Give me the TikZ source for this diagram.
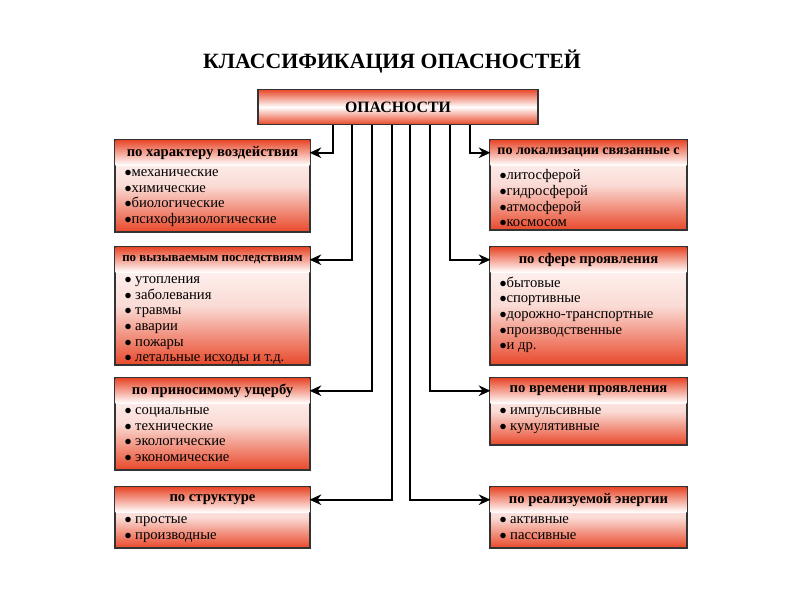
\documentclass[tikz,border=0pt]{standalone}
\usepackage{fontspec}
\setmainfont{Liberation Serif}
\usetikzlibrary{calc,arrows.meta}
\definecolor{hazred}{RGB}{232,72,42}
\tikzset{
  ar/.style={-{Stealth[length=10pt,width=9pt]},line width=1.8pt},
  boxbody/.style={draw=black!80,line width=1.2pt,inner sep=0pt,top color=white,bottom color=hazred,middle color=white!80!hazred},
  hdr/.style={anchor=north,inner sep=0pt,minimum height=0.75cm,top color=hazred,bottom color=white,font=\fontsize{12.5}{14}\selectfont\bfseries},
  items/.style={anchor=north west,inner sep=0pt,align=left,font=\fontsize{12.5}{13.4}\selectfont}
}
% category box: name, x1, y1, x2, y2, header, items
\newcommand{\catbox}[7]{%
  \node[boxbody,minimum width={(#4-#2)*0.03cm},minimum height={(#5-#3)*0.03cm}] (#1) at ({(#2+#4)/2},{(#3+#5)/2}) {};
  \node[hdr,minimum width={(#4-#2)*0.03cm-1.2pt}] (#1h) at ([yshift=-0.6pt]#1.north) {#6};
  \node[items] (#1i) at ($(#1.north west)+(10,30)$) {#7};
}
\begin{document}
\begin{tikzpicture}[x=0.03cm,y=-0.03cm]
\useasboundingbox (0,0) rectangle (800,600);
\node[font=\fontsize{18.6}{21}\selectfont\bfseries] (title) at (392,62) {КЛАССИФИКАЦИЯ ОПАСНОСТЕЙ};
\node[draw=black!80,line width=1.2pt,minimum width={280*0.03cm},minimum height={35*0.03cm},
  top color=hazred,bottom color=hazred,middle color=white,
  font=\fontsize{13.5}{15}\selectfont\bfseries] (top) at (398,107) {ОПАСНОСТИ};

\catbox{L1}{115}{140}{310}{232}{по характеру воздействия}{$\bullet$механические\\$\bullet$химические\\$\bullet$биологические\\$\bullet$психофизиологические}
\catbox{L2}{115}{247}{310}{365}{\fontsize{11}{12}\selectfont по вызываемым последствиям}{$\bullet$ утопления\\$\bullet$ заболевания\\$\bullet$ травмы\\$\bullet$ аварии\\$\bullet$ пожары\\$\bullet$ летальные исходы и т.д.}
\catbox{L3}{115}{378}{310}{470}{по приносимому ущербу}{$\bullet$ социальные\\$\bullet$ технические\\$\bullet$ экологические\\$\bullet$ экономические}
\catbox{L4}{115}{487}{310}{548}{по структуре}{$\bullet$ простые\\$\bullet$ производные}
\catbox{R1}{490}{140}{687}{230}{\fontsize{12}{13}\selectfont по локализации связанные с}{$\bullet$литосферой\\$\bullet$гидросферой\\$\bullet$атмосферой\\$\bullet$космосом}
\catbox{R2}{490}{247}{687}{365}{по сфере проявления}{$\bullet$бытовые\\$\bullet$спортивные\\$\bullet$дорожно-транспортные\\$\bullet$производственные\\$\bullet$и др.}
\catbox{R3}{490}{378}{687}{445}{по времени проявления}{$\bullet$ импульсивные\\$\bullet$ кумулятивные}
\catbox{R4}{490}{487}{687}{548}{по реализуемой энергии}{$\bullet$ активные\\$\bullet$ пассивные}

\draw[ar] ($(top.south)+(-65,0)$) |- (L1h.east);
\draw[ar] ($(top.south)+(-46,0)$) |- (L2h.east);
\draw[ar] ($(top.south)+(-26,0)$) |- (L3h.east);
\draw[ar] ($(top.south)+(-6,0)$) |- (L4h.east);
\draw[ar] ($(top.south)+(72,0)$) |- (R1h.west);
\draw[ar] ($(top.south)+(52,0)$) |- (R2h.west);
\draw[ar] ($(top.south)+(32,0)$) |- (R3h.west);
\draw[ar] ($(top.south)+(12,0)$) |- (R4h.west);
\end{tikzpicture}
\end{document}
